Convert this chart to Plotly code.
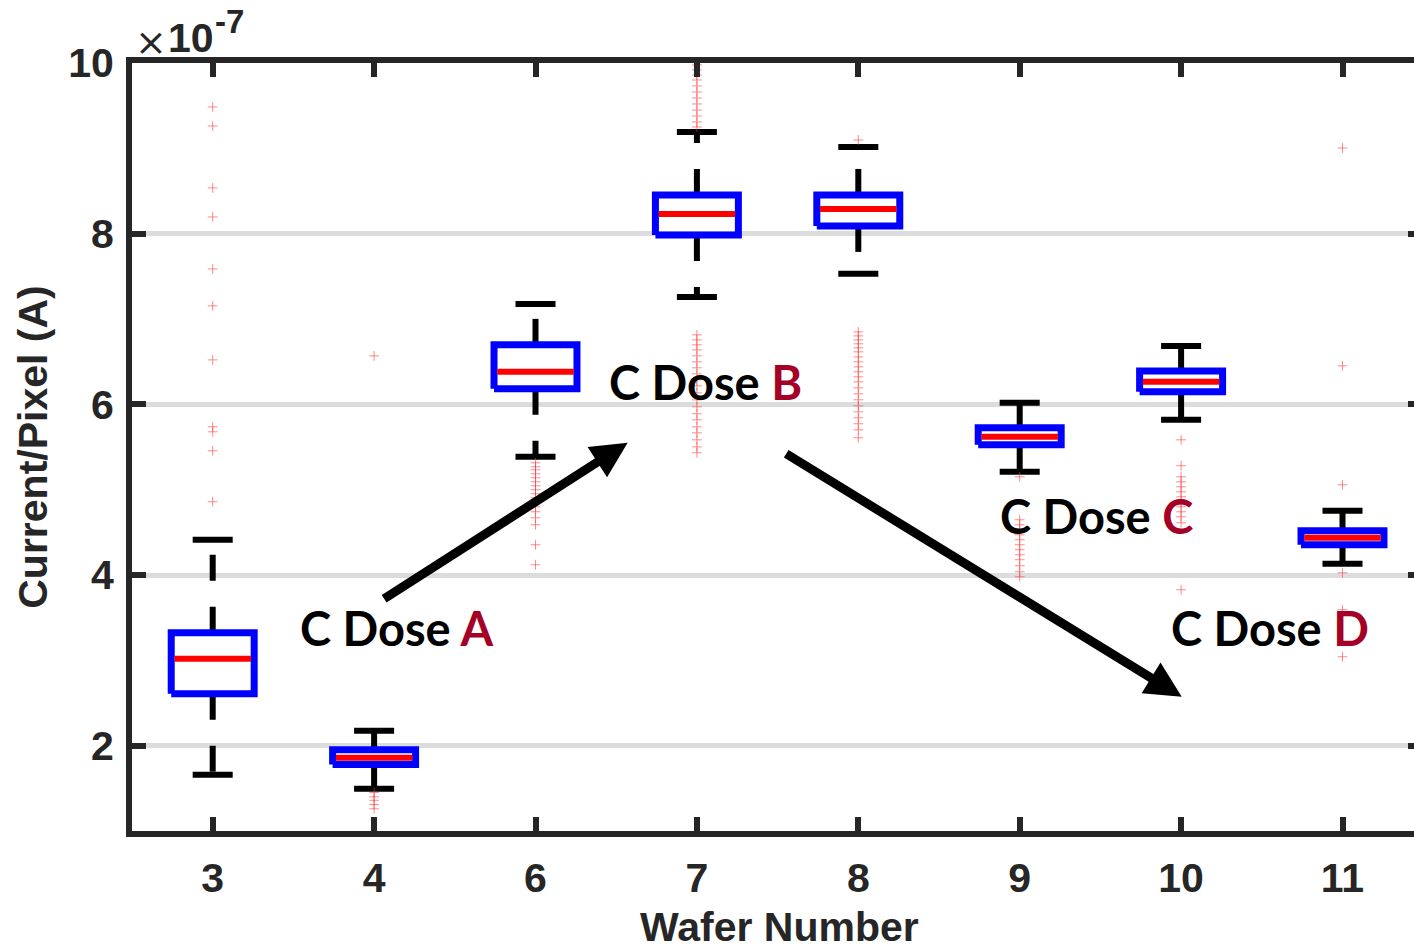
import plotly.graph_objects as go

# ---------------- data (values in units of 1e-7 A) ----------------
wafers = ['3', '4', '6', '7', '8', '9', '10', '11']
q1 = [2.609, 1.778, 6.182, 7.985, 8.091, 5.526, 6.146, 4.354]
median = [3.019, 1.859, 6.381, 8.231, 8.290, 5.619, 6.264, 4.436]
q3 = [3.324, 1.953, 6.697, 8.454, 8.454, 5.725, 6.392, 4.518]
whisker_low = [1.660, 1.496, 5.385, 7.259, 7.529, 5.209, 5.818, 4.132]
whisker_high = [4.413, 2.176, 7.177, 9.192, 9.016, 6.018, 6.685, 4.753]

out_w3 = [9.485, 9.262, 8.536, 8.196, 7.587, 7.154, 6.521, 5.737, 5.678, 5.455, 4.858]
out_w4 = [6.568, 1.450, 1.400, 1.360, 1.310, 1.260]
out_w6 = [5.315, 5.268, 5.233, 5.186, 5.139, 5.092, 5.045, 4.999, 4.952, 4.905,
          4.846, 4.799, 4.741, 4.670, 4.589, 4.354, 4.120]
out_w7 = [9.977, 9.918, 9.859, 9.801, 9.731, 9.660, 9.590, 9.520, 9.449, 9.379, 9.309, 9.250,
          6.814, 6.755, 6.697, 6.638, 6.568, 6.498, 6.428, 6.357, 6.287, 6.217,
          6.135, 6.052, 5.971, 5.889, 5.818, 5.736, 5.666, 5.584, 5.502, 5.432]
out_w8 = [9.098, 6.849, 6.802, 6.755, 6.709, 6.662, 6.615, 6.556, 6.498, 6.439, 6.381,
          6.322, 6.263, 6.193, 6.123, 6.053, 5.982, 5.912, 5.842, 5.772, 5.701, 5.608]
out_w9 = [5.151, 4.647, 4.589, 4.530, 4.471, 4.413, 4.354, 4.296, 4.237, 4.179,
          4.108, 4.038, 3.979]
out_w10 = [5.584, 5.280, 5.151, 5.092, 5.034, 4.975, 4.917, 4.858, 4.799, 4.741,
           4.682, 4.612, 3.827]
out_w11 = [9.004, 6.451, 5.057, 4.026, 3.593, 3.042]
outliers = [out_w3, out_w4, out_w6, out_w7, out_w8, out_w9, out_w10, out_w11]

y_ticks = [2, 4, 6, 8, 10]

x_title = 'Wafer Number'
y_title = 'Current/Pixel (A)'

# annotations: label text, highlighted letter, position (category index, value)
dose_labels = ['A', 'B', 'C', 'D']
dose_x = [2.14, 4.055, 6.477, 7.549]
dose_y = [3.38, 6.264, 4.694, 3.38]
# arrows: tail -> head (category index, value)
arrow_tail_x = [2.053, 4.544]
arrow_tail_y = [3.71, 5.432]
arrow_head_x = [3.571, 7.004]
arrow_head_y = [5.55, 2.574]

# ---------------- styles ----------------
BOX_HALF = 0.257
CAP_HALF = 0.124
AX_COLOR = '#262626'
pos = list(range(1, len(wafers) + 1))

fig = go.Figure()

# whiskers (dashed), starting at the quartile
wx, wy = [], []
for p, a, b, c, d in zip(pos, q3, whisker_high, q1, whisker_low):
    wx += [p, p, None, p, p, None]
    wy += [a, b, None, c, d, None]
fig.add_trace(go.Scatter(x=wx, y=wy, mode='lines', hoverinfo='skip',
                         line=dict(color='black', width=6, dash='26px,26px')))

# caps
cx, cy = [], []
for p, b, d in zip(pos, whisker_high, whisker_low):
    cx += [p - CAP_HALF, p + CAP_HALF, None, p - CAP_HALF, p + CAP_HALF, None]
    cy += [b, b, None, d, d, None]
fig.add_trace(go.Scatter(x=cx, y=cy, mode='lines', hoverinfo='skip',
                         line=dict(color='black', width=6)))

# boxes
bx, by = [], []
for p, a, c in zip(pos, q1, q3):
    bx += [p - BOX_HALF, p + BOX_HALF, p + BOX_HALF, p - BOX_HALF, p - BOX_HALF, None]
    by += [a, a, c, c, a, None]
fig.add_trace(go.Scatter(x=bx, y=by, mode='lines', hoverinfo='skip',
                         line=dict(color='#0000FF', width=7)))

# medians
mx, my = [], []
for p, m in zip(pos, median):
    mx += [p - BOX_HALF + 0.02, p + BOX_HALF - 0.02, None]
    my += [m, m, None]
fig.add_trace(go.Scatter(x=mx, y=my, mode='lines', hoverinfo='skip',
                         line=dict(color='#FF0000', width=6)))

# outliers
ox, oy = [], []
for p, vals in zip(pos, outliers):
    ox += [p] * len(vals)
    oy += vals
fig.add_trace(go.Scatter(x=ox, y=oy, mode='markers', hoverinfo='skip',
                         marker=dict(symbol='cross-thin', size=7,
                                     line=dict(color='rgba(255,60,60,0.6)', width=1))))

# invisible trace to activate the mirrored right-hand tick axis
fig.add_trace(go.Scatter(x=pos, y=median, yaxis='y2', mode='markers',
                         marker=dict(opacity=0), hoverinfo='skip'))

annotations = []
for L, x, y in zip(dose_labels, dose_x, dose_y):
    annotations.append(dict(
        x=x, y=y, xref='x', yref='y', showarrow=False,
        text=f"C Dose <span style='color:#A50026'>{L}</span>",
        font=dict(family='Lato', size=47, color='black', weight='bold')))
for tx, ty, hx, hy in zip(arrow_tail_x, arrow_tail_y, arrow_head_x, arrow_head_y):
    annotations.append(dict(
        x=hx, y=hy, ax=tx, ay=ty, xref='x', yref='y', axref='x', ayref='y',
        text='', showarrow=True, arrowhead=2, arrowsize=0.8, arrowwidth=9,
        arrowcolor='black', standoff=0))

# exponent label "×10^-7" above the top-left corner (paper coordinates)
annotations.append(dict(
    x=0.0148, y=1.027, xref='paper', yref='paper', xanchor='center', yanchor='middle',
    showarrow=False, text='×',
    font=dict(family='DejaVu Sans', size=38, color=AX_COLOR, weight='normal')))
annotations.append(dict(
    x=0.0460, y=1.033, xref='paper', yref='paper', xanchor='center', yanchor='middle',
    showarrow=False, text='10',
    font=dict(family='Liberation Sans', size=41, color=AX_COLOR, weight='bold')))
annotations.append(dict(
    x=0.0757, y=1.054, xref='paper', yref='paper', xanchor='center', yanchor='middle',
    showarrow=False, text='-7',
    font=dict(family='Liberation Sans', size=33, color=AX_COLOR, weight='bold')))

# x-axis title placed as an annotation for exact vertical placement
annotations.append(dict(
    x=0.505, y=-0.1245, xref='paper', yref='paper', xanchor='center', yanchor='middle',
    showarrow=False, text=x_title, borderpad=0,
    font=dict(family='Liberation Sans', size=41, color=AX_COLOR, weight='bold')))

fig.update_layout(
    width=1414, height=952,
    margin=dict(l=132, r=0, t=63, b=121),
    paper_bgcolor='white', plot_bgcolor='white',
    showlegend=False,
    font=dict(family='Liberation Sans', size=40, color=AX_COLOR, weight='bold'),
    xaxis=dict(
        range=[0.5, 8.443], tickvals=pos, ticktext=wafers,
        ticks='inside', ticklen=14, tickwidth=6, tickcolor=AX_COLOR,
        showline=True, linewidth=6, linecolor=AX_COLOR, mirror='ticks',
        showgrid=False, zeroline=False, ticklabelstandoff=6,
        tickfont=dict(size=41, weight='bold'),
    ),
    yaxis=dict(
        range=[1, 10], tickvals=y_ticks,
        ticks='inside', ticklen=14, tickwidth=6, tickcolor=AX_COLOR,
        showline=True, linewidth=6, linecolor=AX_COLOR, mirror=False,
        showgrid=True, gridcolor='#DCDCDC', gridwidth=5, zeroline=False,
        ticklabelstandoff=4,
        tickfont=dict(size=41, weight='bold'),
        title=dict(text=y_title, font=dict(size=41, weight='bold'), standoff=10),
    ),
    yaxis2=dict(
        range=[1, 10], tickvals=y_ticks, overlaying='y', side='right',
        ticks='inside', ticklen=6, tickwidth=6, tickcolor=AX_COLOR,
        showline=False, showgrid=False, zeroline=False, showticklabels=False,
    ),
    annotations=annotations,
)

fig.write_html('out.html')
